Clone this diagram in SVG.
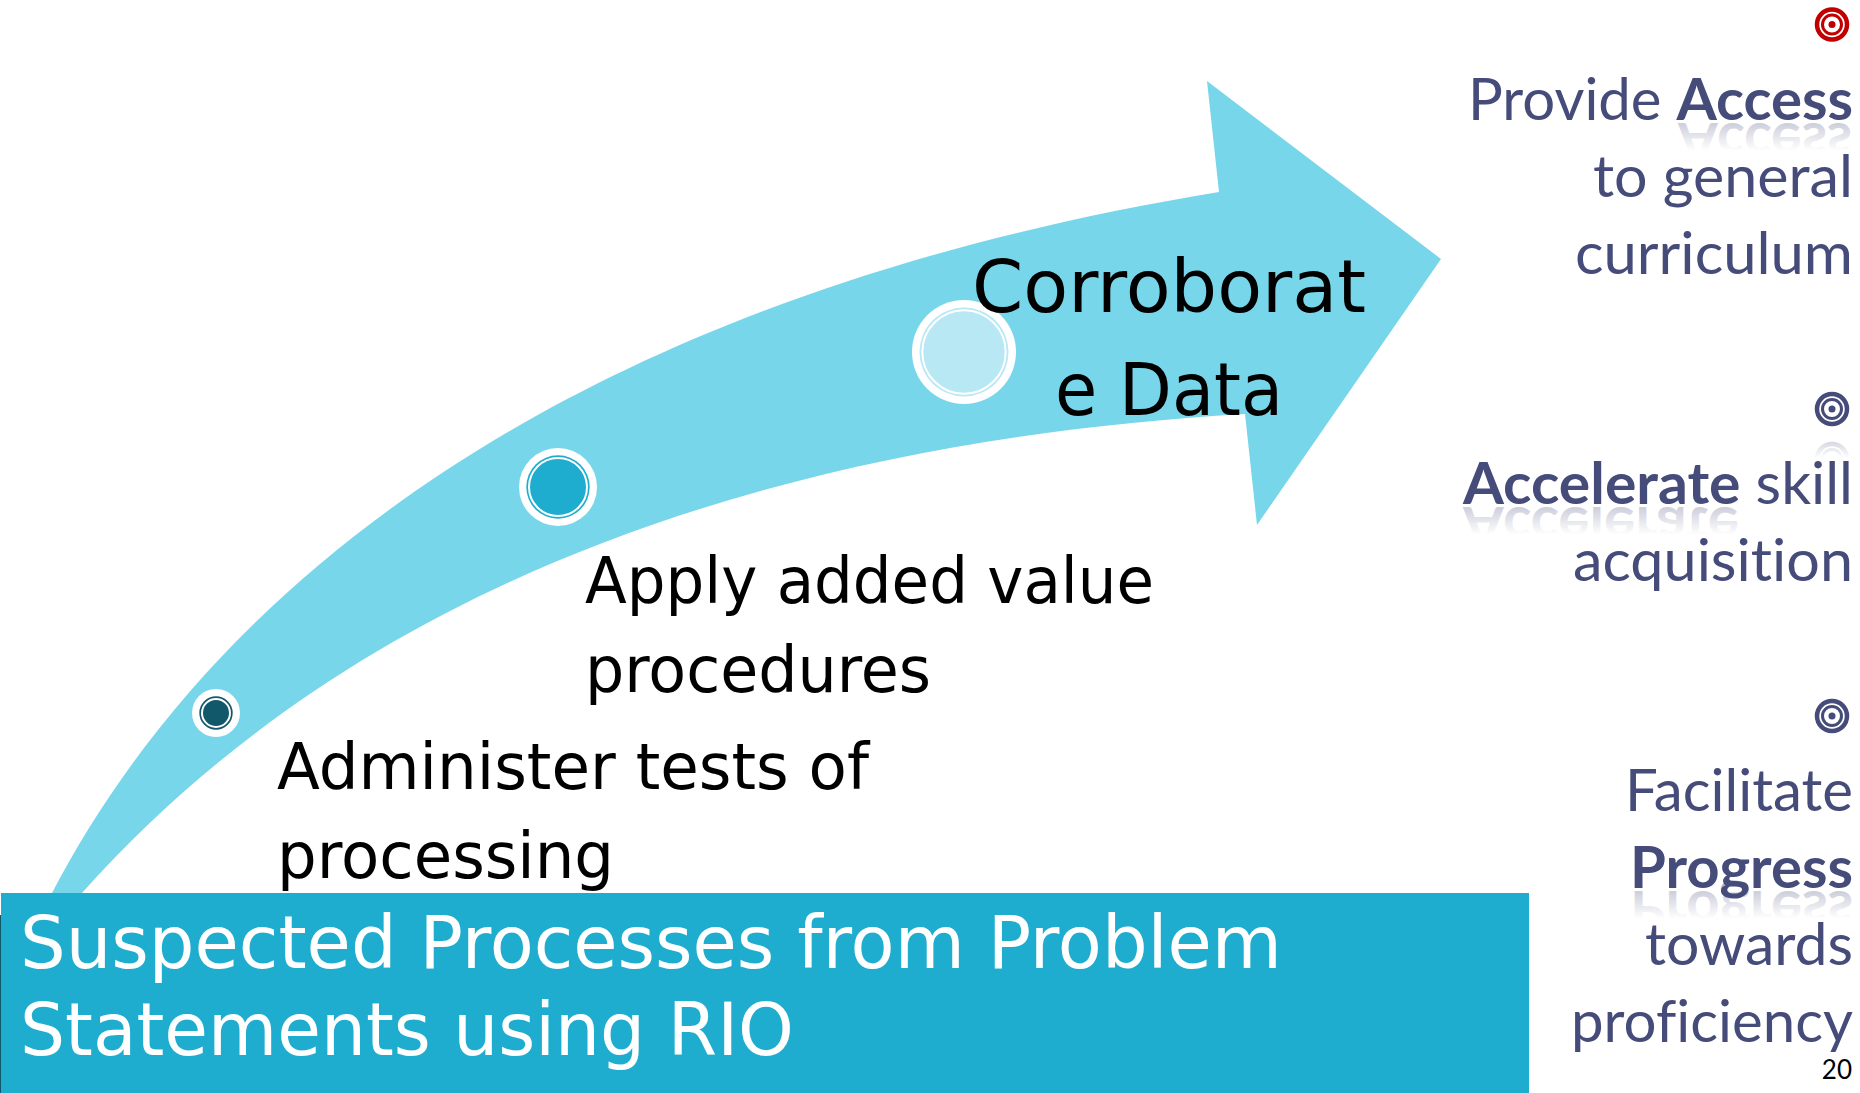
<svg xmlns="http://www.w3.org/2000/svg" width="1860" height="1093" viewBox="0 0 1860 1093">
<style>
.b{font-family:"DejaVu Sans",Verdana,sans-serif;fill:#000}
.t{font-family:Lato,Carlito,sans-serif;font-size:58px;fill:#464c7a;font-variant-ligatures:none}
.s{font-weight:700}
.r{fill:none;stroke:#fff;stroke-width:2}
.o{fill:none;stroke-width:4.500}
.i{fill:none;stroke-width:3}
.navy{stroke:#464c7a}
.red{stroke:#c00000}
</style>
<defs>
<linearGradient id="f" x1="0" y1="0" x2="0" y2="1"><stop offset="0" stop-color="#fff" stop-opacity=".3"/><stop offset=".62" stop-color="#fff" stop-opacity="1"/></linearGradient>
</defs>
<rect width="1860" height="1093" fill="#fff"/>
<g id="connectors">
<path d="M52 893C210 590 560 300 1219 192L1207 81L1441 259L1257 525L1245 414C800 440 370 570 82 893Z" fill="#78d6eb"/>
</g>
<g id="node-1">
<circle cx="216" cy="713" r="24" fill="#fff"/><circle cx="216" cy="713" r="16.700" fill="#11596a"/><circle cx="216" cy="713" r="14" class="r"/>
<text class="b" font-size="64" x="277" y="789" textLength="592" lengthAdjust="spacingAndGlyphs">Administer tests of</text>
<text class="b" font-size="64" x="277" y="878" textLength="337" lengthAdjust="spacingAndGlyphs">processing</text>
</g>
<g id="node-2">
<circle cx="558" cy="487" r="39" fill="#fff"/><circle cx="558" cy="487" r="31.700" fill="#1fadcf"/><circle cx="558" cy="487" r="29" class="r"/>
<text class="b" font-size="64" x="585" y="603" textLength="569" lengthAdjust="spacingAndGlyphs">Apply added value</text>
<text class="b" font-size="64" x="585" y="692" textLength="346" lengthAdjust="spacingAndGlyphs">procedures</text>
</g>
<g id="node-3">
<circle cx="964" cy="352" r="52" fill="#fff"/><circle cx="964" cy="352" r="44.500" fill="#b7e8f4"/><circle cx="964" cy="352" r="41.700" class="r"/>
<text class="b" font-size="73" x="972" y="312" textLength="394" lengthAdjust="spacingAndGlyphs">Corroborat</text>
<text class="b" font-size="73" x="1055" y="415" textLength="228" lengthAdjust="spacingAndGlyphs">e Data</text>
</g>
<g id="title">
<rect x="0" y="915" width="2" height="178" fill="#11596a"/>
<rect x="1" y="893" width="1528" height="200" fill="#1fadcf"/>
<text class="b" style="fill:#fff" font-size="73" x="20" y="968" textLength="1262" lengthAdjust="spacingAndGlyphs">Suspected Processes from Problem</text>
<text class="b" style="fill:#fff" font-size="73" x="20" y="1055" textLength="774" lengthAdjust="spacingAndGlyphs">Statements using RIO</text>
</g>
<g id="goal-1">
<circle cx="1832" cy="24.500" r="15" class="o red"/><circle cx="1832" cy="24.500" r="9.500" class="i red"/><circle cx="1832" cy="24.500" r="3.500" fill="#c00000"/>
<text class="t s" x="1678" y="120" textLength="174" lengthAdjust="spacingAndGlyphs" transform="translate(0 243) scale(1 -1)" opacity=".4">Access</text>
<rect x="1670" y="122" width="186" height="46" fill="url(#f)"/>
<text class="t" x="1468" y="120" textLength="385" lengthAdjust="spacingAndGlyphs">Provide <tspan class="s">Access</tspan></text>
<text class="t" x="1593" y="197" textLength="260" lengthAdjust="spacingAndGlyphs">to general</text>
<text class="t" x="1575" y="274" textLength="278" lengthAdjust="spacingAndGlyphs">curriculum</text>
</g>
<g id="goal-2">
<circle cx="1832" cy="409" r="15" class="o navy"/><circle cx="1832" cy="409" r="9.500" class="i navy"/><circle cx="1832" cy="409" r="3.500" fill="#464c7a"/>
<g opacity=".3"><circle cx="1832" cy="459" r="15" class="o navy"/><circle cx="1832" cy="459" r="9.500" class="i navy"/></g>
<rect x="1808" y="442" width="48" height="26" fill="url(#f)"/>
<rect x="1808" y="460" width="48" height="30" fill="#fff"/>
<text class="t s" x="1463" y="504" textLength="276" lengthAdjust="spacingAndGlyphs" transform="translate(0 1011) scale(1 -1)" opacity=".4">Accelerate</text>
<rect x="1455" y="506" width="295" height="46" fill="url(#f)"/>
<text class="t" x="1463" y="504" textLength="390" lengthAdjust="spacingAndGlyphs"><tspan class="s">Accelerate</tspan> skill</text>
<text class="t" x="1573" y="581" textLength="280" lengthAdjust="spacingAndGlyphs">acquisition</text>
</g>
<g id="goal-3">
<circle cx="1832" cy="716" r="15" class="o navy"/><circle cx="1832" cy="716" r="9.500" class="i navy"/><circle cx="1832" cy="716" r="3.500" fill="#464c7a"/>
<text class="t" x="1625" y="811" textLength="228" lengthAdjust="spacingAndGlyphs">Facilitate</text>
<text class="t s" x="1630" y="888" textLength="223" lengthAdjust="spacingAndGlyphs" transform="translate(0 1779) scale(1 -1)" opacity=".4">Progress</text>
<rect x="1622" y="890" width="234" height="46" fill="url(#f)"/>
<text class="t s" x="1630" y="888" textLength="223" lengthAdjust="spacingAndGlyphs">Progress</text>
<text class="t" x="1645" y="965" textLength="208" lengthAdjust="spacingAndGlyphs">towards</text>
<text class="t" x="1571" y="1042" textLength="282" lengthAdjust="spacingAndGlyphs">proficiency</text>
</g>
<g id="page-number">
<text font-family="Lato,sans-serif" font-size="26" x="1852" y="1079" text-anchor="end">20</text>
</g>
</svg>
